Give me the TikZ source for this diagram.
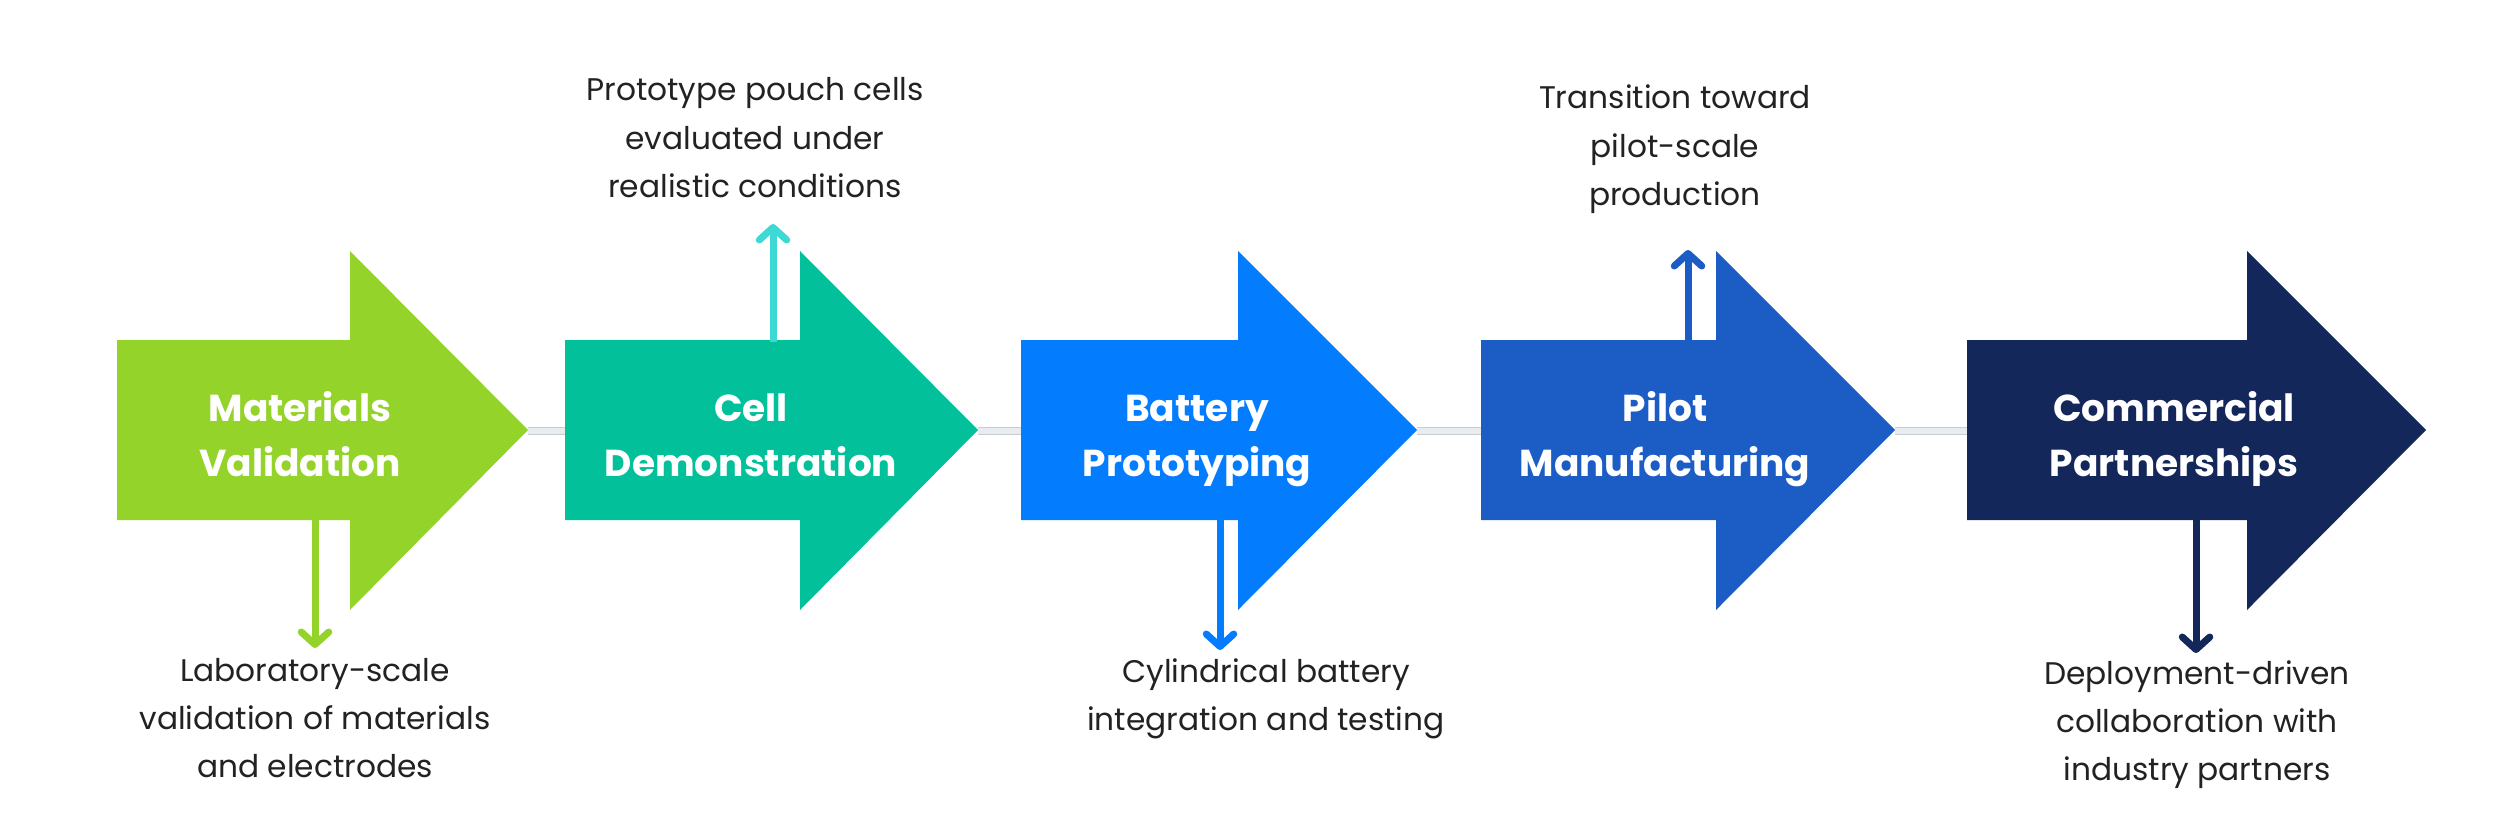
\documentclass[tikz,border=0pt]{standalone}
\usepackage{fontspec}
\setmainfont{Poppins}
\usetikzlibrary{arrows.meta}
\definecolor{cGreen}{HTML}{94D32A}
\definecolor{cTeal}{HTML}{02C09A}
\definecolor{cBlue}{HTML}{047CFE}
\definecolor{cPilot}{HTML}{1B5CC5}
\definecolor{cNavy}{HTML}{13275A}
\definecolor{cCyan}{HTML}{3FD9D5}
\definecolor{cText}{HTML}{222222}
\definecolor{cLink}{HTML}{E9ECEE}
\definecolor{cLinkEdge}{HTML}{C9CDD1}
\newcommand\stagearrow[5]{%
  \fill[#5] (#2,340) -- (#3,340) -- (#3,251) -- (#4,430) -- (#3,610) -- (#3,520) -- (#2,520) -- cycle;
  \coordinate (#1-l) at (#2,431);
  \coordinate (#1-t) at (#4,431);}
\begin{document}
\begin{tikzpicture}[x=0.4pt,y=-0.4pt,
  stagetitle/.style={text=white,font=\bfseries\fontsize{15}{22}\selectfont,align=center,inner sep=0pt,anchor=base},
  stagecaption/.style={text=cText,font=\fontsize{12.5}{19.2}\selectfont,align=center,inner sep=0pt,anchor=base},
  link/.style={draw=cLinkEdge,line width=0.4pt,double=cLink,double distance=2.4pt},
  leader/.style={line width=2.8pt,-{Straight Barb[round,length=5pt,width=11pt]}}]
\useasboundingbox[fill=white] (0,0) rectangle (2500,833);
% connectors (behind)
\coordinate (a1-t) at (528,431); \coordinate (a2-l) at (565,431);
\coordinate (a2-t) at (978,431); \coordinate (a3-l) at (1021,431);
\coordinate (a3-t) at (1417,431); \coordinate (a4-l) at (1481,431);
\coordinate (a4-t) at (1895,431); \coordinate (a5-l) at (1967,431);
\draw[link] (a1-t) -- (a2-l);
\draw[link] (a2-t) -- (a3-l);
\draw[link] (a3-t) -- (a4-l);
\draw[link] (a4-t) -- (a5-l);
% stage arrows
\stagearrow{a1}{117}{350}{528}{cGreen}
\stagearrow{a2}{565}{800}{978}{cTeal}
\stagearrow{a3}{1021}{1238}{1417}{cBlue}
\stagearrow{a4}{1481}{1716}{1895}{cPilot}
\stagearrow{a5}{1967}{2247}{2426}{cNavy}
% titles (anchor base = baseline of last line)
\node[stagetitle] (t1) at (300,476) {Materials\\Validation};
\node[stagetitle] (t2) at (751,476) {Cell\\Demonstration};
\node[stagetitle] (t3) at (1197,476) {Battery\\Prototyping};
\node[stagetitle] (t4) at (1665,476) {Pilot\\Manufacturing};
\node[stagetitle] (t5) at (2174,476) {Commercial\\Partnerships};
% leaders
\coordinate (s1) at (315,520); \coordinate (e1) at (315,648);
\coordinate (s2) at (773,342); \coordinate (e2) at (773,224);
\coordinate (s3) at (1220,520); \coordinate (e3) at (1220,650);
\coordinate (s4) at (1688,342); \coordinate (e4) at (1688,250);
\coordinate (s5) at (2196,520); \coordinate (e5) at (2196,653);
\draw[leader,cGreen] (s1) -- (e1);
\draw[leader,cCyan] (s2) -- (e2);
\draw[leader,cBlue] (s3) -- (e3);
\draw[leader,cPilot] (s4) -- (e4);
\draw[leader,cNavy] (s5) -- (e5);
% captions (anchor base = baseline of last line)
\node[stagecaption] (c1) at (315,777) {Laboratory-scale\\validation of materials\\and electrodes};
\node[stagecaption] (c2) at (755,197) {Prototype pouch cells\\evaluated under\\realistic conditions};
\node[stagecaption] (c3) at (1266,730) {Cylindrical battery\\integration and testing};
\node[stagecaption] (c4) at (1675,205) {Transition toward\\pilot-scale\\production};
\node[stagecaption] (c5) at (2197,780) {Deployment-driven\\collaboration with\\industry partners};
\end{tikzpicture}
\end{document}
